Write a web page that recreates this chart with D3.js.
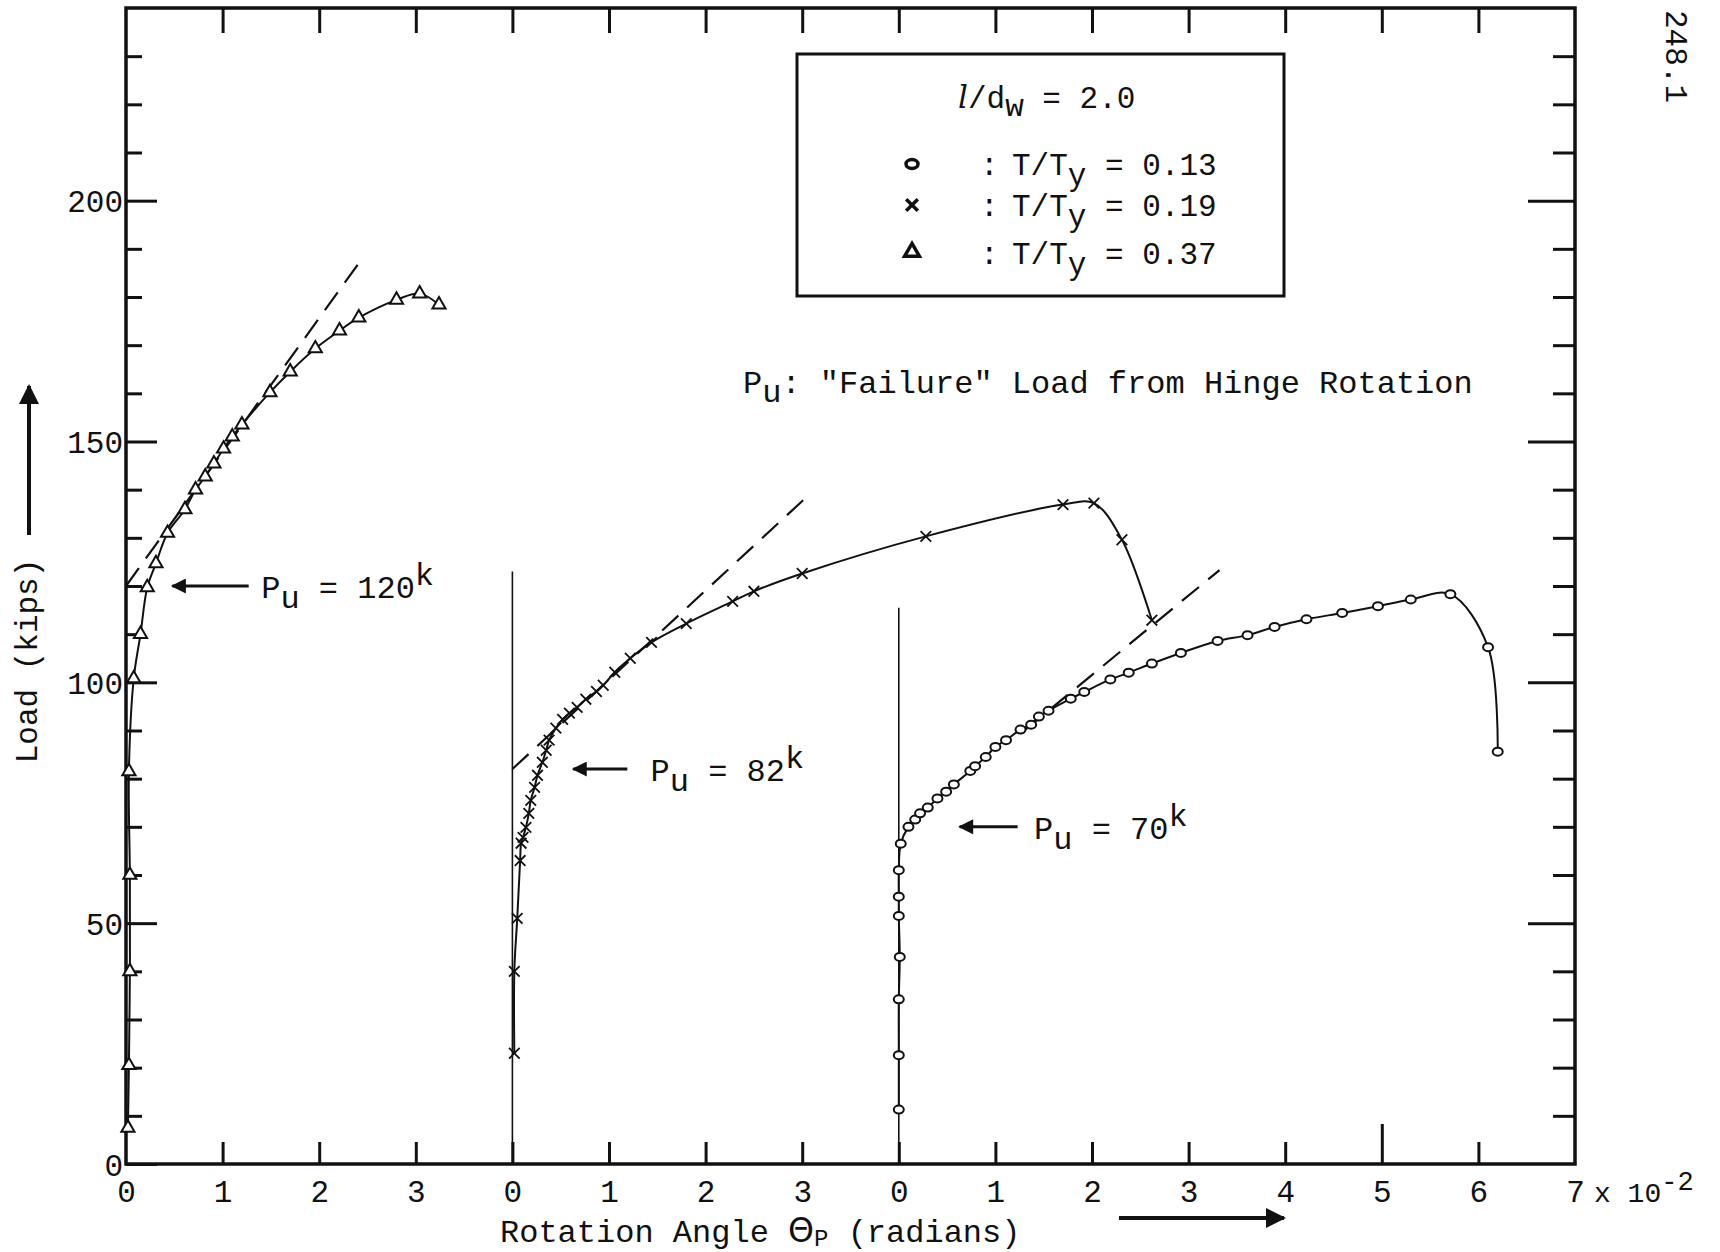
<!DOCTYPE html>
<html>
<head>
<meta charset="utf-8">
<script src="https://cdn.jsdelivr.net/npm/d3@7"></script>
<style>
  body { margin: 0; background: #fff; }
  svg text { font-family: "Liberation Mono", "DejaVu Sans Mono", monospace; fill: #111; }
</style>
</head>
<body>
<div id="chart"></div>
<script>
// rotation is in units of 10^-2 radians, load in kips
// each test is plotted on its own zero: panels start at 0, 4 and 8 on the shared axis
var panelOffset = [0, 4, 8];
var xTickLabels = ["0", "1", "2", "3", "0", "1", "2", "3", "0", "1", "2", "3", "4", "5", "6", "7"];
var yTickLabels = [0, 50, 100, 150, 200];

// T/Ty = 0.37 (triangles)
var thetaTri = [0.02, 0.03, 0.04, 0.04, 0.03, 0.08, 0.15, 0.22, 0.31, 0.43, 0.61, 0.72, 0.82, 0.91, 1.01, 1.10, 1.20, 1.49, 1.70, 1.96, 2.21, 2.41, 2.80, 3.04, 3.24];
var loadTri = [7.5, 20.5, 40, 60, 81.5, 100.8, 110, 119.7, 124.7, 131, 135.9, 140, 142.7, 145.4, 148.5, 151, 153.5, 160.2, 164.5, 169.3, 173, 175.7, 179.4, 180.7, 178.4];

// T/Ty = 0.19 (crosses)
var thetaX = [0.02, 0.02, 0.05, 0.08, 0.09, 0.11, 0.14, 0.17, 0.19, 0.23, 0.26, 0.31, 0.35, 0.38, 0.45, 0.52, 0.59, 0.67, 0.76, 0.87, 0.94, 1.06, 1.22, 1.44, 1.80, 2.28, 2.50, 3.00, 4.28, 5.70, 6.02, 6.31, 6.62];
var loadX = [23, 40, 51, 63, 66.6, 67.8, 69.9, 72.8, 75.5, 78.2, 80.7, 83.4, 85.9, 88, 90.5, 92.3, 93.6, 94.8, 96.5, 98.1, 99.4, 102.1, 105, 108.3, 112.2, 116.8, 118.9, 122.6, 130.3, 136.9, 137.2, 129.6, 112.9];

// T/Ty = 0.13 (circles)
var thetaO = [0.00, 0.00, 0.00, 0.01, 0.00, 0.00, 0.00, 0.02, 0.10, 0.17, 0.22, 0.30, 0.40, 0.49, 0.57, 0.74, 0.79, 0.90, 1.00, 1.11, 1.26, 1.37, 1.45, 1.55, 1.78, 1.92, 2.19, 2.38, 2.62, 2.92, 3.30, 3.61, 3.89, 4.22, 4.59, 4.96, 5.30, 5.71, 6.10, 6.20];
var loadO = [11.3, 22.6, 34.2, 43, 51.5, 55.5, 61, 66.5, 70, 71.5, 72.8, 74, 75.9, 77.3, 78.8, 81.6, 82.6, 84.5, 86.6, 88, 90.2, 91.2, 92.9, 94.1, 96.6, 98, 100.6, 102, 103.9, 106.1, 108.6, 109.8, 111.5, 113.1, 114.4, 115.8, 117.2, 118.3, 107.3, 85.6];

// tangent (dashed) lines and the "failure" loads read from them
var tangentFrom = [[0, 120], [0, 82], [1.3, 90]];
var tangentTo = [[2.47, 188.7], [3.02, 138], [3.32, 123.3]];
var puValues = [120, 82, 70];
var arrowHead = [0.48, 0.63, 0.63];
var arrowTail = [1.27, 1.19, 1.23];
var puTextAt = [1.40, 1.43, 1.40];
// height of the thin zero line drawn for panels 2 and 3
var zeroLineTop = [null, 123, 115.5];

var legendLabels = ["0.13", "0.19", "0.37"];

var width = 1720, height = 1252;

var svg = d3.select("#chart").append("svg")
    .attr("width", width)
    .attr("height", height);

var x = d3.scaleLinear().domain([0, 15]).range([126, 1575]);
var y = d3.scaleLinear().domain([0, 240]).range([1164, 8]);

var defs = svg.append("defs");
defs.append("marker")
    .attr("id", "head")
    .attr("viewBox", "0 0 10 10")
    .attr("refX", 9).attr("refY", 5)
    .attr("markerWidth", 7).attr("markerHeight", 5)
    .attr("markerUnits", "strokeWidth")
    .attr("orient", "auto")
    .append("path")
    .attr("d", "M0,0 L10,5 L0,10 Z")
    .attr("fill", "#111");

// axes (ticks point into the plot)
var minorY = d3.range(10, 240, 10);

var left = svg.append("g")
    .attr("transform", "translate(" + x(0) + ",0)")
    .call(d3.axisLeft(y).tickValues([0].concat(minorY)).tickSize(-16).tickPadding(3)
        .tickFormat(function (d) { return yTickLabels.indexOf(d) >= 0 ? d : ""; }));
left.selectAll(".tick line").attr("x2", function (d) { return d % 50 === 0 ? 31 : 16; });

var right = svg.append("g")
    .attr("transform", "translate(" + x(15) + ",0)")
    .call(d3.axisRight(y).tickValues(minorY).tickSize(-22).tickFormat(""));
right.selectAll(".tick line").attr("x2", function (d) { return d % 50 === 0 ? -47 : -22; });

var top = svg.append("g")
    .attr("transform", "translate(0," + y(240) + ")")
    .call(d3.axisTop(x).tickValues(d3.range(1, 15)).tickSize(-25).tickFormat(""));

var bottom = svg.append("g")
    .attr("transform", "translate(0," + y(0) + ")")
    .call(d3.axisBottom(x).tickValues(d3.range(0, 16)).tickSize(-22).tickPadding(16)
        .tickFormat(function (i) { return xTickLabels[i]; }));
bottom.selectAll(".tick line").attr("y2", function (d) { return d === 13 ? -40 : (d === 0 || d === 15 ? 0 : -22); });

svg.selectAll(".domain").remove();
svg.selectAll(".tick line").attr("stroke", "#111").attr("stroke-width", 3);
left.selectAll(".tick text").style("font-size", "31px").attr("dy", "0.36em");
bottom.selectAll(".tick text").style("font-size", "31px");

svg.append("rect")
    .attr("x", x(0)).attr("y", y(240))
    .attr("width", x(15) - x(0)).attr("height", y(0) - y(240))
    .attr("fill", "none").attr("stroke", "#111").attr("stroke-width", 3.5);

// x 10^-2 after the last label
var mult = svg.append("text")
    .attr("x", x(15) + 19).attr("y", y(0) + 38)
    .style("font-size", "28px");
mult.append("tspan").text("x 10");
mult.append("tspan").attr("dy", -12).style("font-size", "27px").text("-2");

// zero lines of panels 2 and 3
zeroLineTop.forEach(function (t, i) {
    if (t === null) return;
    svg.append("line")
        .attr("x1", x(panelOffset[i])).attr("x2", x(panelOffset[i]))
        .attr("y1", y(0)).attr("y2", y(t))
        .attr("stroke", "#111").attr("stroke-width", 1.6);
});

// dashed tangents
tangentFrom.forEach(function (a, i) {
    var b = tangentTo[i];
    svg.append("line")
        .attr("x1", x(a[0] + panelOffset[i])).attr("y1", y(a[1]))
        .attr("x2", x(b[0] + panelOffset[i])).attr("y2", y(b[1]))
        .attr("stroke", "#111").attr("stroke-width", 2.2)
        .attr("stroke-dasharray", "22,12");
});

function toPoints(th, ld, off) {
    return th.map(function (t, i) { return [t + off, ld[i]]; });
}

var line = d3.line()
    .x(function (d) { return x(d[0]); })
    .y(function (d) { return y(d[1]); })
    .curve(d3.curveCatmullRom.alpha(0.5));

var triPts = toPoints(thetaTri, loadTri, panelOffset[0]);
var xPts = toPoints(thetaX, loadX, panelOffset[1]);
var oPts = toPoints(thetaO, loadO, panelOffset[2]);

[triPts, xPts, oPts].forEach(function (pts) {
    svg.append("path")
        .attr("d", line(pts))
        .attr("fill", "none")
        .attr("stroke", "#111")
        .attr("stroke-width", 2);
});

var triSym = d3.symbol(d3.symbolTriangle).size(75);
var xSym = d3.symbol(d3.symbolTimes).size(75);

svg.append("g").selectAll("path")
    .data(triPts).enter().append("path")
    .attr("d", triSym)
    .attr("transform", function (d) { return "translate(" + x(d[0]) + "," + y(d[1]) + ")"; })
    .attr("fill", "#fff").attr("stroke", "#111").attr("stroke-width", 2);

svg.append("g").selectAll("path")
    .data(xPts).enter().append("path")
    .attr("d", xSym)
    .attr("transform", function (d) { return "translate(" + x(d[0]) + "," + y(d[1]) + ")"; })
    .attr("fill", "none").attr("stroke", "#111").attr("stroke-width", 1.8);

svg.append("g").selectAll("ellipse")
    .data(oPts).enter().append("ellipse")
    .attr("cx", function (d) { return x(d[0]); })
    .attr("cy", function (d) { return y(d[1]); })
    .attr("rx", 5).attr("ry", 4)
    .attr("fill", "#fff").attr("stroke", "#111").attr("stroke-width", 2);

// P_u arrows and labels
puValues.forEach(function (p, i) {
    var off = panelOffset[i];
    svg.append("line")
        .attr("x1", x(arrowTail[i] + off)).attr("x2", x(arrowHead[i] + off))
        .attr("y1", y(p)).attr("y2", y(p))
        .attr("stroke", "#111").attr("stroke-width", 3)
        .attr("marker-end", "url(#head)");
    var t = svg.append("text")
        .attr("x", x(puTextAt[i] + off)).attr("y", y(p) + 12)
        .style("font-size", "32px");
    t.append("tspan").text("P");
    t.append("tspan").attr("dy", 10).text("u");
    t.append("tspan").attr("dy", -10).text(" = " + p);
    t.append("tspan").attr("dy", -13).text("k");
});

svg.append("text")
    .attr("x", 743).attr("y", 393)
    .style("font-size", "32px")
    .call(function (t) {
        t.append("tspan").text("P");
        t.append("tspan").attr("dy", 9).text("u");
        t.append("tspan").attr("dy", -9).text(": \"Failure\" Load from Hinge Rotation");
    });

// legend
var lg = svg.append("g");
lg.append("rect")
    .attr("x", 797).attr("y", 54).attr("width", 487).attr("height", 242)
    .attr("fill", "#fff").attr("stroke", "#111").attr("stroke-width", 3);

var head = lg.append("text").attr("x", 958).attr("y", 108).style("font-size", "31px");
head.append("tspan").style("font-style", "italic").style("font-family", "DejaVu Serif").text("l");
head.append("tspan").text("/d");
head.append("tspan").attr("dy", 8).text("w");
head.append("tspan").attr("dy", -8).text(" = 2.0");

var rowY = [175, 216, 264];
legendLabels.forEach(function (lab, i) {
    var r = lg.append("text").attr("x", 1012).attr("y", rowY[i]).style("font-size", "31px");
    r.append("tspan").text("T/T");
    r.append("tspan").attr("dy", 10).text("y");
    r.append("tspan").attr("dy", -10).text(" = " + lab);
    lg.append("text").attr("x", 980).attr("y", rowY[i]).style("font-size", "31px").text(":");
});
lg.append("ellipse").attr("cx", 912).attr("cy", rowY[0] - 11).attr("rx", 6).attr("ry", 4.5)
    .attr("fill", "#fff").attr("stroke", "#111").attr("stroke-width", 3.5);
lg.append("path").attr("d", d3.symbol(d3.symbolTimes).size(90))
    .attr("transform", "translate(912," + (rowY[1] - 11) + ")")
    .attr("stroke", "#111").attr("stroke-width", 3.5);
lg.append("path").attr("d", d3.symbol(d3.symbolTriangle).size(95))
    .attr("transform", "translate(912," + (rowY[2] - 12) + ")")
    .attr("fill", "#fff").attr("stroke", "#111").attr("stroke-width", 3.5);

// axis titles
svg.append("text")
    .attr("transform", "translate(37,661) rotate(-90)")
    .attr("text-anchor", "middle")
    .style("font-size", "31px")
    .text("Load (kips)");
svg.append("line")
    .attr("x1", 29).attr("x2", 29).attr("y1", 535).attr("y2", 386)
    .attr("stroke", "#111").attr("stroke-width", 4)
    .attr("marker-end", "url(#head)");

var xt = svg.append("text").attr("x", 500).attr("y", 1242).style("font-size", "32px");
xt.append("tspan").text("Rotation Angle ");
xt.append("tspan").style("font-size", "33px").style("font-family", "DejaVu Sans").text("\u0398");
xt.append("tspan").attr("dy", 4).style("font-size", "24px").text("P");
xt.append("tspan").attr("dy", -4).text(" (radians)");
svg.append("line")
    .attr("x1", 1119).attr("x2", 1284).attr("y1", 1218).attr("y2", 1218)
    .attr("stroke", "#111").attr("stroke-width", 4)
    .attr("marker-end", "url(#head)");

// page number in the margin
svg.append("text")
    .attr("transform", "translate(1666,10) rotate(90)")
    .style("font-size", "31px")
    .text("248.1");
</script>
</body>
</html>
